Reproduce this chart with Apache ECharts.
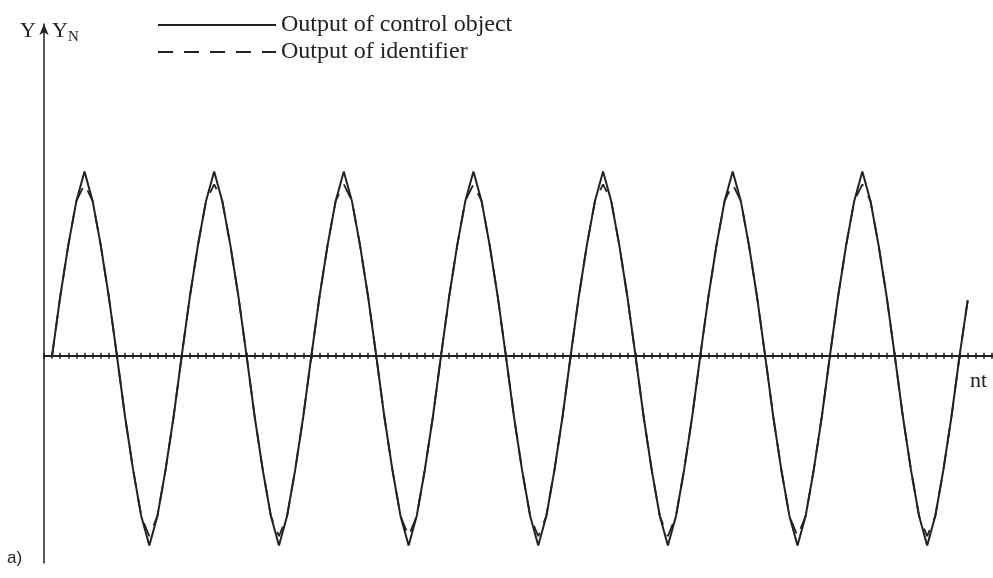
<!DOCTYPE html>
<html>
<head>
<meta charset="utf-8">
<title>Output of control object and identifier</title>
<script src="https://cdn.jsdelivr.net/npm/echarts@6/dist/echarts.min.js"></script>
<style>
  html, body { margin: 0; padding: 0; background: #fff; }
  #chart { width: 993px; height: 578px; }
</style>
</head>
<body>
<div id="chart"></div>
<script>
// Sample index n (time axis nt), one value per step
const objectOutput = [
  0, 0.32, 0.60, 0.84, 1.00, 0.84, 0.60, 0.32, 0, -0.33, -0.62, -0.87, -1.03, -0.87, -0.62, -0.33,
  0, 0.32, 0.60, 0.84, 1.00, 0.84, 0.60, 0.32, 0, -0.33, -0.62, -0.87, -1.03, -0.87, -0.62, -0.33,
  0, 0.32, 0.60, 0.84, 1.00, 0.84, 0.60, 0.32, 0, -0.33, -0.62, -0.87, -1.03, -0.87, -0.62, -0.33,
  0, 0.32, 0.60, 0.84, 1.00, 0.84, 0.60, 0.32, 0, -0.33, -0.62, -0.87, -1.03, -0.87, -0.62, -0.33,
  0, 0.32, 0.60, 0.84, 1.00, 0.84, 0.60, 0.32, 0, -0.33, -0.62, -0.87, -1.03, -0.87, -0.62, -0.33,
  0, 0.32, 0.60, 0.84, 1.00, 0.84, 0.60, 0.32, 0, -0.33, -0.62, -0.87, -1.03, -0.87, -0.62, -0.33,
  0, 0.32, 0.60, 0.84, 1.00, 0.84, 0.60, 0.32, 0, -0.33, -0.62, -0.87, -1.03, -0.87, -0.62, -0.33,
  0, 0.30
];
const identifierOutput = [
  0, 0.32, 0.60, 0.84, 0.93, 0.84, 0.60, 0.32, 0, -0.33, -0.62, -0.87, -0.98, -0.87, -0.62, -0.33,
  0, 0.32, 0.60, 0.84, 0.93, 0.84, 0.60, 0.32, 0, -0.33, -0.62, -0.87, -0.98, -0.87, -0.62, -0.33,
  0, 0.32, 0.60, 0.84, 0.93, 0.84, 0.60, 0.32, 0, -0.33, -0.62, -0.87, -0.98, -0.87, -0.62, -0.33,
  0, 0.32, 0.60, 0.84, 0.93, 0.84, 0.60, 0.32, 0, -0.33, -0.62, -0.87, -0.98, -0.87, -0.62, -0.33,
  0, 0.32, 0.60, 0.84, 0.93, 0.84, 0.60, 0.32, 0, -0.33, -0.62, -0.87, -0.98, -0.87, -0.62, -0.33,
  0, 0.32, 0.60, 0.84, 0.93, 0.84, 0.60, 0.32, 0, -0.33, -0.62, -0.87, -0.98, -0.87, -0.62, -0.33,
  0, 0.32, 0.60, 0.84, 0.93, 0.84, 0.60, 0.32, 0, -0.33, -0.62, -0.87, -0.98, -0.87, -0.62, -0.33,
  0, 0.30
];
const seriesNames = ['Output of control object', 'Output of identifier'];

const ink = '#222222';
const serif = '"Liberation Serif", "Times New Roman", serif';

const toPairs = arr => arr.map((v, n) => [n, v]);

const chart = echarts.init(document.getElementById('chart'), null, { renderer: 'canvas' });

// Time axis drawn twice at the zero level: one set of step ticks points down,
// the other points up, so every step shows as a small cross on the line
const timeAxis = (ticksInside) => ({
  type: 'value',
  position: 'bottom',
  min: -1,
  max: 116,
  interval: 1,
  axisLine: { show: true, onZero: true, onZeroAxisIndex: 0, lineStyle: { color: ink, width: 2 } },
  axisTick: { show: true, length: 3, inside: ticksInside, lineStyle: { color: ink, width: 1.5 } },
  axisLabel: { show: false },
  splitLine: { show: false }
});

chart.setOption({
  animation: false,
  backgroundColor: '#ffffff',
  grid: { left: 44, right: 1, top: 24, bottom: 15, containLabel: false },
  legend: {
    orient: 'vertical',
    left: 152,
    top: 8,
    itemWidth: 118,
    itemHeight: 14,
    itemGap: 3,
    data: seriesNames,
    itemStyle: { color: 'transparent', borderWidth: 0, opacity: 0 },
    textStyle: { fontFamily: serif, fontSize: 24, color: ink }
  },
  xAxis: [timeAxis(false), timeAxis(true)],
  yAxis: {
    type: 'value',
    min: -1.125,
    max: 1.80,
    axisLine: {
      show: true,
      onZero: false,
      symbol: ['none', 'arrow'],
      symbolSize: [7, 11],
      lineStyle: { color: ink, width: 1.5 }
    },
    axisTick: { show: false },
    axisLabel: { show: false },
    splitLine: { show: false }
  },
  series: [
    {
      name: seriesNames[0],
      type: 'line',
      data: toPairs(objectOutput),
      showSymbol: false,
      symbol: 'none',
      itemStyle: { color: ink },
      lineStyle: { color: ink, width: 2, type: 'solid' },
      z: 3
    },
    {
      name: seriesNames[1],
      type: 'line',
      data: toPairs(identifierOutput),
      showSymbol: false,
      symbol: 'none',
      itemStyle: { color: ink },
      lineStyle: { color: ink, width: 1.8, type: [15, 11] },
      z: 4
    }
  ],
  graphic: [
    {
      type: 'text', left: 20, top: 20,
      style: { text: 'Y', font: '22px ' + serif, fill: ink }
    },
    {
      type: 'text', left: 52, top: 20,
      style: {
        text: '{m|Y}{s|N}',
        rich: {
          m: { font: '22px ' + serif, fill: ink },
          s: { font: '15px ' + serif, fill: ink, padding: [12, 0, 0, 0] }
        }
      }
    },
    {
      type: 'text', left: 970, top: 370,
      style: { text: 'nt', font: '22px ' + serif, fill: ink }
    },
    {
      type: 'text', left: 7, top: 550,
      style: { text: 'a)', font: '17px "Liberation Sans", Arial, sans-serif', fill: ink }
    }
  ]
});
</script>
</body>
</html>
